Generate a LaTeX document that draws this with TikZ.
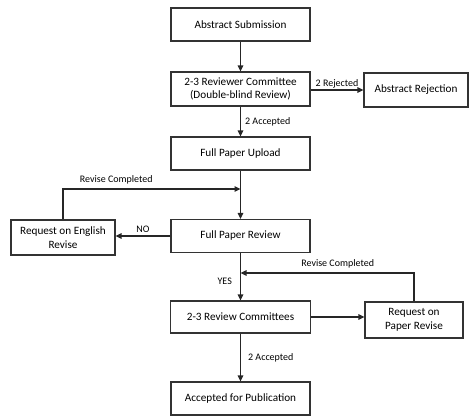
\documentclass[tikz,border=0pt]{standalone}
\usepackage{fontspec}
\setmainfont{Carlito}
\usetikzlibrary{arrows.meta}
\begin{document}
\begin{tikzpicture}[x=1pt,y=-1pt,
  box/.style={draw=black!80, line width=1.2pt, rectangle, align=center, inner sep=1pt, font=\fontsize{11.2}{13.5}\selectfont},
  conn/.style={draw=black!85, line width=1.3pt, -{Triangle[length=6pt,width=5.5pt]}},
  lbl/.style={font=\fontsize{10}{12}\selectfont, inner sep=1pt}]
\useasboundingbox (0,0) rectangle (476,416);
\node[box, minimum width=139pt, minimum height=33pt] (sub) at (240.5,24.5) {Abstract Submission};
\node[box, minimum width=139pt, minimum height=34pt] (rev) at (240.5,89) {2-3 Reviewer Committee\\(Double-blind Review)};
\node[box, minimum width=104pt, minimum height=34pt] (rej) at (416,90) {Abstract Rejection};
\node[box, minimum width=139pt, minimum height=33pt] (upl) at (240.5,153.5) {Full Paper Upload};
\node[box, minimum width=139pt, minimum height=33pt] (fpr) at (240.5,236) {Full Paper Review};
\node[box, minimum width=104pt, minimum height=35pt] (eng) at (63,237.5) {Request on English\\Revise};
\node[box, minimum width=140pt, minimum height=32pt] (com) at (240.5,317) {2-3 Review Committees};
\node[box, minimum width=98pt, minimum height=36pt] (prv) at (414,320) {Request on\\Paper Revise};
\node[box, minimum width=139pt, minimum height=33pt] (acc) at (240.5,398.5) {Accepted for Publication};

\coordinate (j1) at (240.5,189);
\coordinate (j2) at (240.5,273);

\draw[conn] (sub) -- (rev);
\draw[conn] (rev.east |- rej.west) -- node[lbl, above] {2 Rejected} (rej.west);
\draw[conn] (rev) -- node[lbl, right=3pt] {2 Accepted} (upl);
\draw[conn] (upl) -- (fpr);
\draw[conn] (eng.north) |- node[lbl, pos=0.65, above=3pt] {Revise Completed} (j1);
\draw[conn] (fpr.west) -- node[lbl, above=2pt] {NO} (fpr.west -| eng.east);
\draw[conn] (fpr) -- node[lbl, left=7pt, pos=0.6] {YES} (com);
\draw[conn] (prv.north) |- node[lbl, pos=0.72, above=3pt] {Revise Completed} (j2);
\draw[conn] (com.east) -- (com.east -| prv.west);
\draw[conn] (com) -- node[lbl, right=6pt] {2 Accepted} (acc);
\end{tikzpicture}
\end{document}
